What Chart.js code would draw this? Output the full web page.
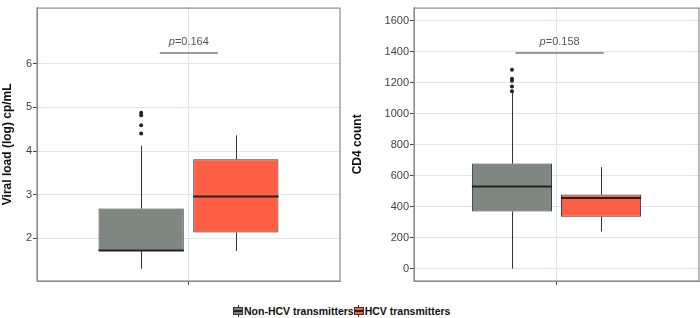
<!DOCTYPE html>
<html>
<head>
<meta charset="utf-8">
<script src="https://cdn.jsdelivr.net/npm/chart.js@4.4.1/dist/chart.umd.min.js"></script>
<style>
  body { margin: 0; background: #fff; font-family: "Liberation Sans", Arial, sans-serif; }
  #wrap { position: relative; width: 700px; height: 318px; }
  #left { position: absolute; left: 0; top: 0; }
  #right { position: absolute; left: 350px; top: 0; }
  #legend { position: absolute; left: 233px; top: 304px; font-weight: bold; font-size: 10.5px; color: #111; white-space: nowrap; }
  .key { display: inline-block; vertical-align: middle; }
  .ico { display: inline-block; position: relative; width: 10px; height: 12px; vertical-align: -2px; margin-right: 1px; }
  .ico b { position: absolute; left: 0; top: 2px; width: 8px; height: 6px; border: 1px solid #333; }
  .ico b::after { content: ""; position: absolute; left: 0; right: 0; top: 2px; height: 1.5px; background: #222; }
  .ico::before { content: ""; position: absolute; left: 4.5px; top: 0; width: 1px; height: 12px; background: #333; }
</style>
</head>
<body>
<div id="wrap">
  <canvas id="left" width="350" height="295"></canvas>
  <canvas id="right" width="350" height="295"></canvas>
  <div id="legend">
    <span class="key"><span class="ico"><b style="background:#7f8782"></b></span>Non-HCV transmitters</span><span class="key"><span class="ico"><b style="background:#fc5f43"></b></span>HCV transmitters</span>
  </div>
</div>
<script>
// groups and colours
const groups = ['Non-HCV transmitters', 'HCV transmitters'];
const groupColors = ['#7f8782', '#fc5f43'];

// Viral load (log) cp/mL - box plot stats per group
const vlLow = [1.30, 1.71];
const vlQ1 = [1.71, 2.13];
const vlMedian = [1.72, 2.96];
const vlQ3 = [2.68, 3.81];
const vlHigh = [4.12, 4.36];
const vlOutliers = [[4.40, 4.59, 4.82, 4.88], []];
const vlTicks = [2, 3, 4, 5, 6];
const vlP = 'p=0.164';
const vlPLevel = 6.25;
const vlPSpan = [-0.095, 0.097]; // in category units around the centre

// CD4 count
const cdLow = [0, 240];
const cdQ1 = [368, 334];
const cdMedian = [529, 455];
const cdQ3 = [677, 477];
const cdHigh = [1140, 654];
const cdOutliers = [[1143, 1174, 1212, 1225, 1282], []];
const cdTicks = [0, 200, 400, 600, 800, 1000, 1200, 1400, 1600];
const cdP = 'p=0.158';
const cdPLevel = 1390;
const cdPSpan = [-0.144, 0.166];

const gridCol = '#d8e7f1';

// draws whiskers, medians, outliers, p-value bracket and the panel border
const boxPlugin = {
  id: 'boxExtras',
  beforeDatasetsDraw(chart) {
    const st = chart.options.plugins.boxExtras;
    const ctx = chart.ctx, y = chart.scales.y;
    ctx.save();
    ctx.strokeStyle = '#333';
    ctx.lineWidth = 1;
    chart.data.datasets.forEach((ds, i) => {
      const bar = chart.getDatasetMeta(i).data[0];
      const x = Math.round(bar.x) + 0.5;
      ctx.beginPath();
      ctx.moveTo(x, y.getPixelForValue(st.high[i]));
      ctx.lineTo(x, y.getPixelForValue(st.q3[i]));
      ctx.moveTo(x, y.getPixelForValue(st.q1[i]));
      ctx.lineTo(x, y.getPixelForValue(st.low[i]));
      ctx.stroke();
    });
    ctx.restore();
  },
  afterDatasetsDraw(chart) {
    const st = chart.options.plugins.boxExtras;
    const ctx = chart.ctx, y = chart.scales.y, xs = chart.scales.x;
    const area = chart.chartArea;
    ctx.save();
    chart.data.datasets.forEach((ds, i) => {
      const bar = chart.getDatasetMeta(i).data[0];
      const x = bar.x, w = bar.width;
      // median
      ctx.strokeStyle = '#222';
      ctx.lineWidth = 2;
      ctx.beginPath();
      const my = y.getPixelForValue(st.median[i]);
      ctx.moveTo(x - w / 2, my);
      ctx.lineTo(x + w / 2, my);
      ctx.stroke();
      // outliers
      ctx.fillStyle = '#222';
      st.outliers[i].forEach(v => {
        ctx.beginPath();
        ctx.arc(x, y.getPixelForValue(v), 2, 0, Math.PI * 2);
        ctx.fill();
      });
    });
    // p-value bracket
    const cx = xs.getPixelForValue(0);
    const cw = area.right - area.left;
    const py = y.getPixelForValue(st.pLevel);
    ctx.strokeStyle = '#9a9a9a';
    ctx.lineWidth = 2;
    ctx.beginPath();
    ctx.moveTo(cx + st.pSpan[0] * cw, py);
    ctx.lineTo(cx + st.pSpan[1] * cw, py);
    ctx.stroke();
    const mid = cx + (st.pSpan[0] + st.pSpan[1]) / 2 * cw;
    const rest = st.pText.slice(1);
    ctx.font = 'italic 11px "Liberation Sans", Arial';
    const w1 = ctx.measureText('p').width;
    ctx.font = '11px "Liberation Sans", Arial';
    const w2 = ctx.measureText(rest).width;
    const x0 = mid - (w1 + w2) / 2;
    ctx.fillStyle = '#555';
    ctx.textBaseline = 'middle';
    ctx.font = 'italic 11px "Liberation Sans", Arial';
    ctx.fillText('p', x0, py - 11);
    ctx.font = '11px "Liberation Sans", Arial';
    ctx.fillText(rest, x0 + w1, py - 11);
    // panel border
    ctx.strokeStyle = '#8a8a8a';
    ctx.lineWidth = 1.2;
    ctx.strokeRect(area.left, area.top + 0.5, area.right - area.left, area.bottom - area.top - 0.5);
    ctx.restore();
  }
};

function makeChart(id, title, stats, yMin, yMax, ticks, axisWidth, padRight) {
  const datasets = groups.map((g, i) => ({
    label: g,
    data: [[stats.q1[i], stats.q3[i]]],
    backgroundColor: groupColors[i],
    borderColor: '#333',
    borderWidth: 1,
    borderSkipped: false,
    categoryPercentage: 0.625,
    barPercentage: 0.9
  }));
  return new Chart(document.getElementById(id), {
    type: 'bar',
    data: { labels: [''], datasets: datasets },
    options: {
      responsive: false,
      animation: false,
      devicePixelRatio: 1,
      layout: { padding: { top: 0, right: padRight, left: 0, bottom: 0 } },
      plugins: {
        legend: { display: false },
        tooltip: { enabled: false },
        boxExtras: stats
      },
      scales: {
        x: {
          offset: true,
          grid: { offset: false, color: gridCol, tickColor: '#444', tickLength: 4 },
          border: { color: '#8a8a8a' },
          ticks: { display: true },
          afterFit: s => { s.height = 14; }
        },
        y: {
          min: yMin,
          max: yMax,
          afterBuildTicks: s => { s.ticks = ticks.map(v => ({ value: v })); },
          afterFit: s => { s.width = axisWidth; },
          grid: { color: gridCol, tickColor: '#444', tickLength: 4 },
          border: { color: '#8a8a8a' },
          ticks: { padding: 1, color: '#3f3f3f', callback: v => String(v),
                   font: { family: '"Liberation Sans", Arial', size: 11 } },
          title: { display: true, text: title, color: '#111', padding: 0,
                   font: { family: '"Liberation Sans", Arial', size: 12, weight: 'bold' } }
        }
      }
    },
    plugins: [boxPlugin]
  });
}

makeChart('left', 'Viral load (log) cp/mL',
  { low: vlLow, q1: vlQ1, median: vlMedian, q3: vlQ3, high: vlHigh, outliers: vlOutliers,
    pText: vlP, pLevel: vlPLevel, pSpan: vlPSpan },
  1.02, 7.29, vlTicks, 37, 10);

makeChart('right', 'CD4 count',
  { low: cdLow, q1: cdQ1, median: cdMedian, q3: cdQ3, high: cdHigh, outliers: cdOutliers,
    pText: cdP, pLevel: cdPLevel, pSpan: cdPSpan },
  -80, 1683, cdTicks, 64, 1);
</script>
</body>
</html>
